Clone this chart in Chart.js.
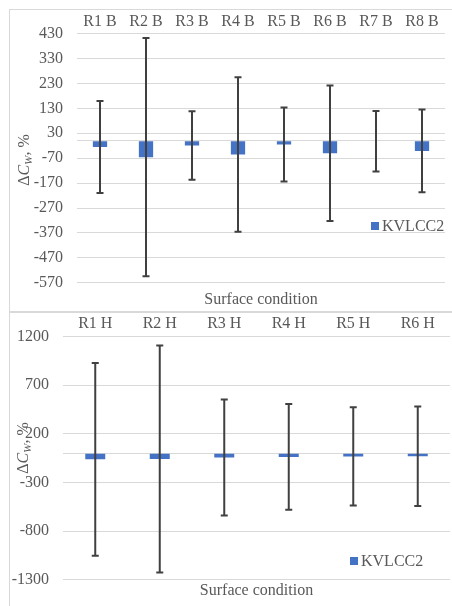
<!DOCTYPE html>
<html>
<head>
<meta charset="utf-8">
<script src="https://cdn.jsdelivr.net/npm/chart.js@4.4.1/dist/chart.umd.min.js"></script>
<style>
  body { margin: 0; background: #fff; width: 452px; height: 606px; overflow: hidden; position: relative; }
  .box { position: absolute; left: 9px; width: 460px; border: 1px solid #d9d9d9; }
  #boxB { top: 9px; height: 301px; }
  #boxH { top: 312px; height: 310px; }
  canvas { position: absolute; left: 0; top: 0; }
</style>
</head>
<body>
<div class="box" id="boxB"><canvas id="chartB" width="442" height="299"></canvas></div>
<div class="box" id="boxH"><canvas id="chartH" width="442" height="293"></canvas></div>
<script>
// data
const catsB = ['R1 B', 'R2 B', 'R3 B', 'R4 B', 'R5 B', 'R6 B', 'R7 B', 'R8 B']
const meanB = [-25, -66, -19, -55, -15, -50, -2, -41]
const errB = [185, 478, 137, 310, 148, 272, 121, 166]
const ticksB = [430, 330, 230, 130, 30, -70, -170, -270, -370, -470, -570]

const catsH = ['R1 H', 'R2 H', 'R3 H', 'R4 H', 'R5 H', 'R6 H']
const meanH = [-62, -58, -43, -37, -32, -30]
const errH = [990, 1166, 596, 543, 505, 511]
const ticksH = [1200, 700, 200, -300, -800, -1300]

const seriesName = 'KVLCC2'
const xTitle = 'Surface condition'

const fontFam = '"Liberation Serif", "Times New Roman", serif'
const txtColor = '#595959'
const barColor = '#4472C4'

// error bars drawn from the y scale
const errorBars = {
    id: 'errorBars',
    afterDatasetsDraw(chart, args, opts) {
        const ctx = chart.ctx
        const xs = chart.scales.x
        const ys = chart.scales.y
        ctx.save()
        ctx.strokeStyle = '#404040'
        ctx.lineWidth = 2
        opts.means.forEach((m, i) => {
            const x = xs.getPixelForValue(i)
            const yTop = ys.getPixelForValue(m + opts.errs[i])
            const yBot = ys.getPixelForValue(m - opts.errs[i])
            ctx.beginPath()
            ctx.moveTo(x, yTop)
            ctx.lineTo(x, yBot)
            ctx.moveTo(x - 3.5, yTop)
            ctx.lineTo(x + 3.5, yTop)
            ctx.moveTo(x - 3.5, yBot)
            ctx.lineTo(x + 3.5, yBot)
            ctx.stroke()
        })
        ctx.restore()
    }
}

// legend + y title (subscript W)
const extras = {
    id: 'extras',
    afterDraw(chart, args, opts) {
        const ctx = chart.ctx
        ctx.save()
        ctx.fillStyle = barColor
        ctx.fillRect(opts.legX, opts.legY - 4, 8, 8)
        ctx.fillStyle = txtColor
        ctx.font = '16px ' + fontFam
        ctx.textBaseline = 'middle'
        ctx.textAlign = 'left'
        ctx.fillText(seriesName, opts.legX + 11, opts.legY + 1)

        // ΔC_W, %
        ctx.translate(opts.tX, opts.tY)
        ctx.rotate(-Math.PI / 2)
        ctx.textBaseline = 'alphabetic'
        const parts = [
            ['16px ' + fontFam, '\u0394', 0],
            ['italic 16px ' + fontFam, 'C', 0],
            ['italic 11px ' + fontFam, 'W', 3],
            ['16px ' + fontFam, ', %', 0]
        ]
        let w = 0
        parts.forEach(p => { ctx.font = p[0]; w += ctx.measureText(p[1]).width })
        let x = -w / 2
        parts.forEach(p => {
            ctx.font = p[0]
            ctx.fillText(p[1], x, 6 + p[2])
            x += ctx.measureText(p[1]).width
        })
        ctx.restore()
    }
}

function makeChart(id, cats, means, errs, ticks, lay) {
    const ctx = document.getElementById(id).getContext('2d')
    return new Chart(ctx, {
        type: 'bar',
        data: {
            labels: cats,
            datasets: [{
                label: seriesName,
                data: means,
                backgroundColor: barColor,
                borderWidth: 0,
                barPercentage: 0.31,
                categoryPercentage: 1
            }]
        },
        options: {
            responsive: false,
            animation: false,
            layout: { padding: { left: 0, right: lay.padRight, top: 0, bottom: 0 } },
            scales: {
                x: {
                    position: 'top',
                    grid: { display: false, drawTicks: false },
                    border: { display: false },
                    ticks: { color: txtColor, font: { family: fontFam, size: 16 }, padding: lay.xPad, maxRotation: 0 },
                    afterFit: s => { s.height = lay.xHeight }
                },
                y: {
                    min: ticks[ticks.length - 1],
                    max: ticks[0],
                    afterBuildTicks: s => {
                        s.ticks = ticks.concat([0]).sort((a, b) => a - b).map(v => ({ value: v }))
                    },
                    grid: { color: '#d9d9d9', lineWidth: 1, drawTicks: false },
                    border: { display: false },
                    ticks: {
                        color: txtColor,
                        font: { family: fontFam, size: 16 },
                        padding: 14,
                        callback: v => v === 0 ? '' : v
                    },
                    afterFit: s => { s.width = lay.yWidth }
                }
            },
            plugins: {
                legend: { display: false },
                tooltip: { enabled: false },
                title: {
                    display: true,
                    text: xTitle,
                    position: 'bottom',
                    fullSize: false,
                    color: txtColor,
                    font: { family: fontFam, size: 16, weight: 'normal', lineHeight: 1.2 },
                    padding: lay.titlePad
                },
                errorBars: { means: means, errs: errs },
                extras: lay.extras
            }
        },
        plugins: [errorBars, extras]
    })
}

makeChart('chartB', catsB, meanB, errB, ticksB, {
    padRight: 7, xHeight: 23, xPad: 2, yWidth: 67,
    titlePad: { top: 7, bottom: 0 },
    extras: { legX: 361, legY: 216, tX: 13, tY: 150 }
})

makeChart('chartH', catsH, meanH, errH, ticksH, {
    padRight: 2, xHeight: 23, xPad: 3, yWidth: 53,
    titlePad: { top: 1, bottom: 6 },
    extras: { legX: 340, legY: 248, tX: 12, tY: 135 }
})
</script>
</body>
</html>
